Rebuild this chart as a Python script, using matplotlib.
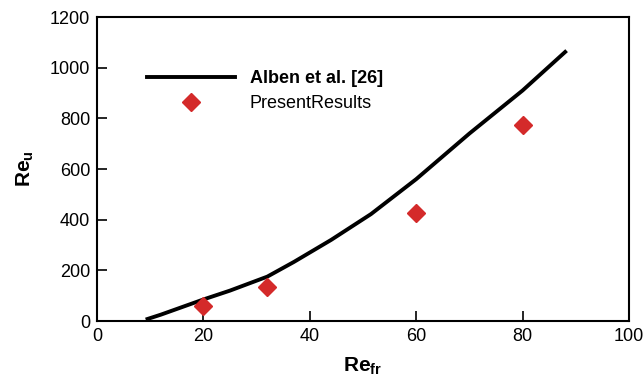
import matplotlib
matplotlib.use('Agg')
import matplotlib.pyplot as plt

# Alben et al. [26] curve
alben_re_fr = [9.5, 12, 16, 20, 25, 32, 37, 44, 51.5, 60, 70, 80, 88]
alben_re_u = [8, 25, 55, 85, 120, 175, 233, 320, 422, 560, 740, 910, 1062]

# Present results
present_re_fr = [20, 32, 60, 80]
present_re_u = [60, 135, 425, 775]

plt.rcParams['font.family'] = ['Liberation Sans', 'DejaVu Sans']
plt.rcParams['mathtext.fontset'] = 'custom'
plt.rcParams['mathtext.bf'] = 'Liberation Sans:bold'
plt.rcParams['mathtext.rm'] = 'Liberation Sans'

fig = plt.figure(figsize=(6.44, 3.84), dpi=100)
ax = fig.add_axes([97 / 644, 1 - 321 / 384, 532 / 644, 304 / 384])

ax.plot(alben_re_fr, alben_re_u, color='black', linewidth=2.8,
        label='Alben et al. [26]')
ax.plot(present_re_fr, present_re_u, linestyle='none', marker='D',
        markersize=9, color='#d42a2a', label='PresentResults')

ax.set_xlim(0, 100)
ax.set_ylim(0, 1200)
ax.set_xticks([0, 20, 40, 60, 80, 100])
ax.set_yticks([0, 200, 400, 600, 800, 1000, 1200])
ax.tick_params(direction='in', length=7, width=1.2, labelsize=13, pad=5)
for s in ax.spines.values():
    s.set_linewidth(1.5)

ax.set_xlabel(r'$\mathbf{Re_{fr}}$', fontsize=15, labelpad=8)
ax.set_ylabel(r'$\mathbf{Re_u}$', fontsize=15, labelpad=10)

leg = ax.legend(loc='upper left', bbox_to_anchor=(0.08, 0.85), frameon=False,
                fontsize=13, handlelength=4.9, handletextpad=0.8,
                labelspacing=0.45, borderaxespad=0)
leg.get_texts()[0].set_fontweight('bold')

fig.savefig('out.png', dpi=100)
